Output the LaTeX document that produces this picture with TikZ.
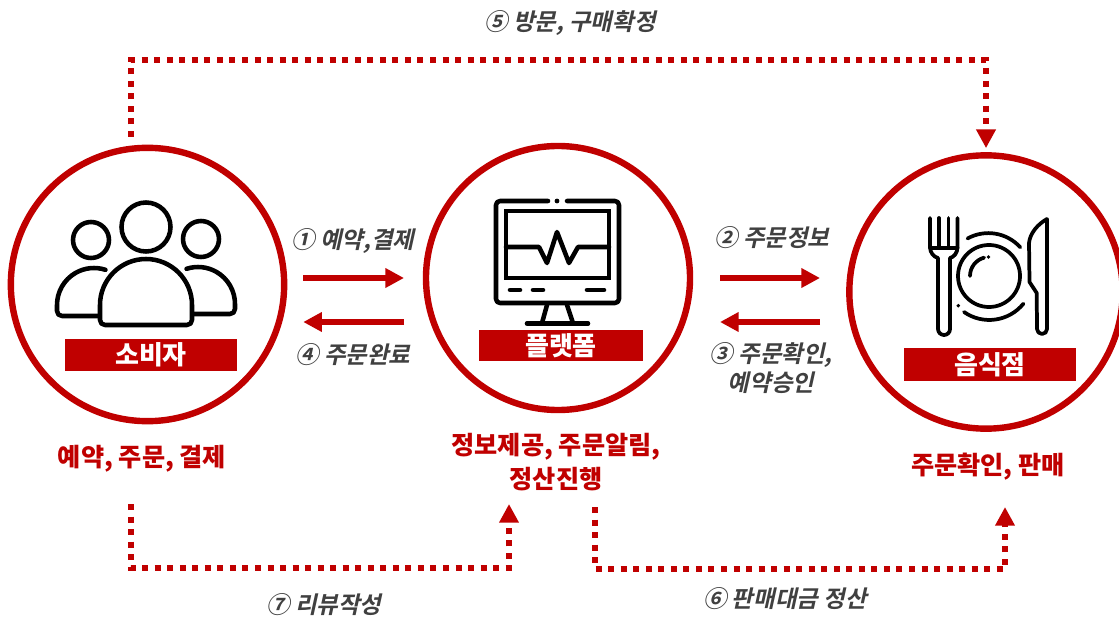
\documentclass[tikz,border=0pt]{standalone}
\usepackage{fontspec}
\usetikzlibrary{arrows.meta}
\newfontfamily\krfont{Noto Sans CJK KR}
\newfontfamily\krslant[FakeSlant=0.22,UprightFont=* Bold]{Noto Sans CJK KR}
\definecolor{brandred}{RGB}{192,0,0}
\definecolor{stepgray}{RGB}{64,64,64}
\tikzset{
	party/.style={circle,draw=brandred,line width=4.8pt,fill=white,minimum size=205pt,inner sep=0pt,outer sep=0pt},
	band/.style={fill=brandred,text=white,font=\krfont\bfseries\fontsize{19.5}{20}\selectfont,anchor=center,inner sep=0pt,outer sep=0pt},
	steplabel/.style={text=stepgray,align=center,inner sep=0pt,font=\krslant\fontsize{17.6}{22}\selectfont},
	rolelabel/.style={text=brandred,align=center,inner sep=0pt,font=\krfont\bfseries\fontsize{18.9}{25}\selectfont},
	flowarrow/.style={draw=brandred,line width=4.6pt,-{Triangle[length=14pt,width=14pt]}},
	dotarrow/.style={draw=brandred,line width=4.5pt,dash pattern=on 4.5pt off 4.9pt,-{Triangle[length=14pt,width=14pt]}},
	icon/.style={draw=black,line width=3.4pt,line cap=round,line join=round},
	thinicon/.style={icon,line width=2.8pt},
}
\begin{document}
\begin{tikzpicture}[x=0.75pt,y=0.75pt]
\useasboundingbox (0,0) rectangle (1119,-620);
\fill[white] (0,0) rectangle (1119,-620);

\node[party] (consumer) at (147.5,-284.5) {};
\node[party,minimum size=198pt] (platform) at (558,-278) {};
\node[party] (restaurant) at (986,-292) {};

\node[band,minimum width=129pt,minimum height=24pt] (consumerband) at (151,-355) {소비자};
\node[band,minimum width=123pt,minimum height=23pt] (platformband) at (561,-345.5) {플랫폼};
\node[band,minimum width=129pt,minimum height=25pt] (restaurantband) at (990,-364.5) {음식점};

% people
\draw[icon] (146,-227) circle (24.5);
\draw[icon] (91,-240) circle (18);
\draw[icon] (201,-239) circle (18);
\draw[icon,fill=white] (100,-305) arc (180:0:46) -- (192,-320) arc (0:-90:5) -- (105,-325) arc (270:180:5) -- cycle;
\draw[icon] (99,-316) -- (62,-316) arc (270:180:5) -- (57,-305) arc (180:72:37);
\draw[icon] (193,-314) -- (230,-314) arc (-90:0:5) -- (235,-304) arc (0:108:37);

% monitor
\draw[icon] (548,-201) -- (500,-201) arc (90:180:4) -- (496,-299) arc (180:270:4) -- (615,-303) arc (270:360:4) -- (619,-205) arc (0:90:4) -- (567,-201);
\fill (557,-201) circle (2.4);
\draw[icon,line cap=butt,line join=miter] (506,-211) rectangle (609,-278);
\draw[icon] (506,-247) -- (539,-247) -- (547,-263) -- (557,-232) -- (569,-263) -- (578,-247) -- (609,-247);
\draw[icon] (510,-290) -- (520,-290);
\draw[icon] (533,-290) -- (543,-290);
\draw[icon] (587,-290) -- (604,-290);
\draw[icon] (547,-305) -- (542,-323);
\draw[icon] (567,-305) -- (573,-323);
\draw[icon] (527,-323.5) -- (588,-323.5);

% fork, plate, knife
\draw[thinicon] (930,-218) -- (930,-247) .. controls (930,-253) and (934,-257) .. (938,-258) -- (938,-329) arc (180:360:6) -- (950,-258) .. controls (954,-257) and (957.5,-253) .. (957.5,-247) -- (957.5,-218);
\draw[thinicon] (939,-218) -- (939,-248);
\draw[thinicon] (948.5,-218) -- (948.5,-248);
\draw[thinicon] (930,-248) -- (957.5,-248);
\draw[thinicon] (989,-276) circle (31);
\draw[thinicon] (970,-276) arc (180:105:19);
\fill (988.5,-257) circle (1.9);
\draw[thinicon] (967.5,-238.5) arc (119:42:43);
\draw[thinicon] (964,-312) arc (235:321:44);
\fill (958.3,-305.7) circle (1.9);
\draw[thinicon] (1047,-219) -- (1047,-329) arc (0:-180:5) -- (1036.7,-293) -- (1029.5,-282) -- (1029,-243) .. controls (1030,-233) and (1038,-224) .. (1047,-219);

% steps between the parties
\draw[flowarrow,shorten <=14.3pt,shorten >=16.5pt] (consumer.east |- platform.west) -- (platform.west);
\draw[flowarrow,shorten <=16.5pt,shorten >=14.3pt] ([yshift=-33pt]platform.west) -- ([yshift=-33pt]consumer.east |- platform.west);
\draw[flowarrow] ([xshift=22.5pt]platform.east) -- ([xshift=97.5pt]platform.east);
\draw[flowarrow] ([xshift=97.5pt,yshift=-33pt]platform.east) -- ([xshift=22.5pt,yshift=-33pt]platform.east);

\coordinate (visitstart) at (131,-137);
\coordinate (reviewstart) at (131,-504);
\coordinate (reviewend) at (509,-504);
\coordinate (paystart) at (595,-507);
\coordinate (payend) at (1005,-507);
\draw[dotarrow,shorten >=5.4pt] (visitstart) |- (986,-60) -- (restaurant.north);
\draw[dotarrow] (reviewstart) |- (509,-568) -- (reviewend);
\draw[dotarrow] (paystart) |- (1005,-569) -- (payend);

\node[steplabel] (visitlabel) at (570,-23.5) {⑤ 방문, 구매확정};
\node[steplabel] (orderlabel) at (353,-241.5) {① 예약,결제};
\node[steplabel] (donelabel) at (353,-354.5) {④ 주문완료};
\node[steplabel] (infolabel) at (772,-237.5) {② 주문정보};
\node[steplabel] (approvelabel) at (771,-368) {③ 주문확인,\\예약승인};
\node[steplabel] (paylabel) at (785,-598.5) {⑥ 판매대금 정산};
\node[steplabel] (reviewlabel) at (324,-604.5) {⑦ 리뷰작성};

\node[rolelabel] (consumertext) at (142,-459) {예약, 주문, 결제};
\node[rolelabel] (platformtext) at (556,-462) {정보제공, 주문알림,\\정산진행};
\node[rolelabel] (restauranttext) at (988,-467) {주문확인, 판매};
\end{tikzpicture}
\end{document}
